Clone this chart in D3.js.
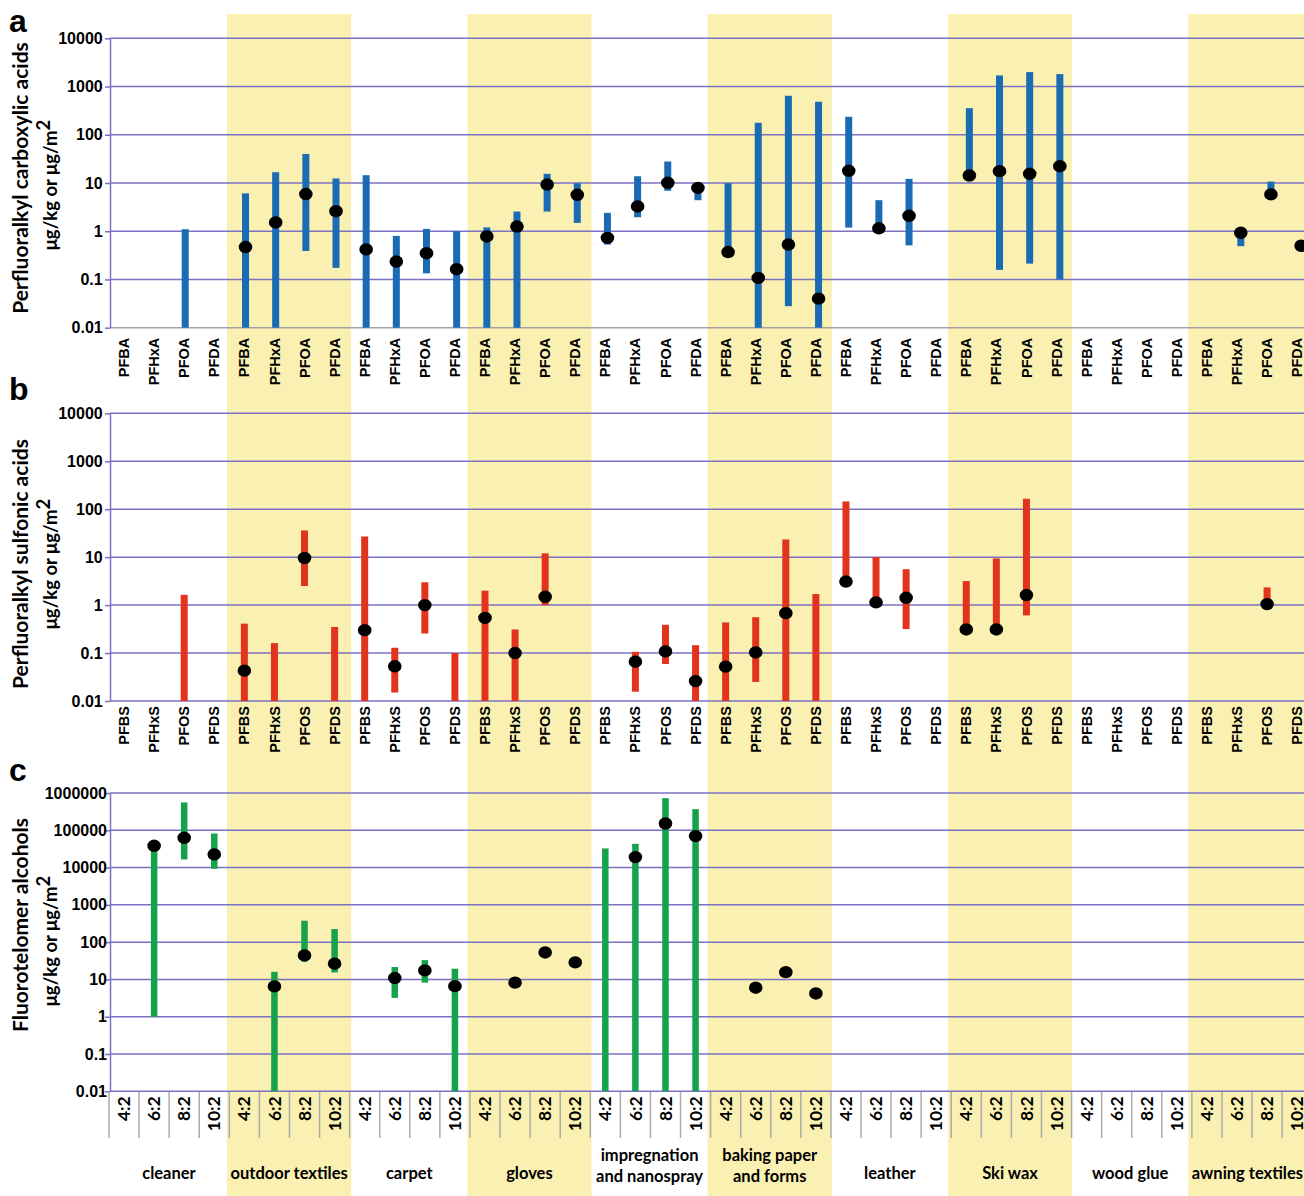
<!DOCTYPE html>
<html><head><meta charset="utf-8">
<script src="https://cdn.jsdelivr.net/npm/d3@7"></script>
<style>body{margin:0;background:#fff}svg{display:block}</style>
</head><body><svg id="chart" width="1304" height="1196"></svg>
<script>
// ---------- data ----------
const categories = ["cleaner","outdoor textiles","carpet","gloves","impregnation\nand nanospray","baking paper\nand forms","leather","Ski wax","wood glue","awning textiles"];
const shadedCategories = ["outdoor textiles","gloves","baking paper\nand forms","Ski wax","awning textiles"];
const pfcaCompounds = ["PFBA","PFHxA","PFOA","PFDA"];
const pfsaCompounds = ["PFBS","PFHxS","PFOS","PFDS"];
const ftohCompounds = ["4:2","6:2","8:2","10:2"];
const ticksAB = [0.01,0.1,1,10,100,1000,10000];
const ticksC = [0.01,0.1,1,10,100,1000,10000,100000,1000000];

// Panel a: perfluoroalkyl carboxylic acids (min, max, median per column)
const pfcaMin = [null,null,0.01,null, 0.01,0.01,0.39,0.174, 0.01,0.01,0.134,0.01, 0.01,0.01,2.56,1.49, 0.53,1.95,6.9,4.4, 0.37,0.01,0.028,0.01, 1.19,1.15,0.51,null, 14.3,0.158,0.213,0.1, null,null,null,null, null,0.49,5.8,null];
const pfcaMax = [null,null,1.1,null, 6.1,16.7,40,12.4, 14.5,0.8,1.12,1.0, 1.2,2.56,15.5,9.9, 2.4,13.8,27.9,9.5, 9.9,177,644,484, 236,4.4,12.2,null, 356,1700,1990,1810, null,null,null,null, null,0.93,10.7,null];
const pfcaMedian = [null,null,null,null, 0.47,1.52,5.9,2.6, 0.42,0.235,0.35,0.163, 0.78,1.25,9.3,5.7, 0.73,3.26,10.1,7.9, 0.37,0.108,0.53,0.04, 17.9,1.15,2.09,null, 14.3,17.6,15.5,22.3, null,null,null,null, null,0.93,5.8,0.5];

// Panel b: perfluoroalkyl sulfonic acids
const pfsaMin = [null,null,0.01,null, 0.01,0.01,2.5,0.01, 0.01,0.015,0.256,0.01, 0.01,0.01,1.0,null, null,0.0156,0.059,0.01, 0.01,0.025,0.01,0.01, 3.1,1.14,0.316,null, 0.31,0.31,0.61,null, null,null,null,null, null,null,1.05,null];
const pfsaMax = [null,null,1.64,null, 0.41,0.161,36,0.35, 27,0.129,3.0,0.1, 2.0,0.31,12,null, null,0.106,0.389,0.146, 0.435,0.56,23.4,1.7, 145,10,5.6,null, 3.17,9.4,165,null, null,null,null,null, null,null,2.34,null];
const pfsaMedian = [null,null,null,null, 0.043,null,9.6,null, 0.30,0.053,1.0,null, 0.54,0.1,1.49,null, null,0.066,0.108,0.026, 0.052,0.103,0.68,null, 3.1,1.14,1.42,null, 0.31,0.31,1.62,null, null,null,null,null, null,null,1.05,null];

// Panel c: fluorotelomer alcohols
const ftohMin = [null,1,16500,9300, null,0.01,30,15.4, null,3.2,8.2,0.01, null,null,null,null, 0.01,0.01,0.01,0.01, null,null,null,null, null,null,null,null, null,null,null,null, null,null,null,null, null,null,null,null];
const ftohMax = [null,38400,557000,82000, null,16,375,224, null,21.5,33,19.4, null,null,null,null, 32600,43400,728000,369000, null,null,null,null, null,null,null,null, null,null,null,null, null,null,null,null, null,null,null,null];
const ftohMedian = [null,38400,63000,22500, null,6.5,44,26.4, null,10.9,17.5,6.6, null,8.2,53,28.6, null,19100,152000,69800, null,6.0,15.7,4.2, null,null,null,null, null,null,null,null, null,null,null,null, null,null,null,null];

// ---------- style ----------
const gridColor = "#7d71c4";
const yellow = "#f9f0b2";
const numFont = "'Liberation Sans', Arial, sans-serif";
const textFont = "Lato, 'Open Sans', sans-serif";

const svg = d3.select("#chart");
const cols = d3.range(40);

// shared column scale and category scale
const xCol = d3.scaleBand().domain(cols).range([109, 1312.2]);
const xColA = d3.scaleBand().domain(cols).range([109.8, 1316.2]);
const xCat = d3.scaleBand().domain(categories).range([106.9, 106.9 + 10 * 120.15]);

// background bands
svg.append("g").selectAll("rect").data(shadedCategories).join("rect")
  .attr("x", d => xCat(d)).attr("width", xCat.step() + 4)
  .attr("y", 14).attr("height", 1196 - 14)
  .attr("fill", yellow);

function drawPanel(o) {
  const y = d3.scaleLog().domain([o.ticks[0], o.ticks[o.ticks.length - 1]]).range([o.yBottom, o.yTop]);
  const g = svg.append("g");
  // gridlines
  g.append("g").selectAll("line").data(o.ticks).join("line")
    .attr("x1", 110).attr("x2", 1304)
    .attr("y1", d => y(d)).attr("y2", d => y(d))
    .attr("stroke", d => d === o.ticks[0] ? o.bottomColor : gridColor)
    .attr("stroke-width", 1.5);
  // y axis
  const ax = g.append("g").attr("transform", "translate(110,0)")
    .call(d3.axisLeft(y).tickValues(o.ticks).tickFormat(d => String(d))
      .tickSizeInner(5).tickSizeOuter(0).tickPadding(o.tickPad));
  ax.select(".domain").attr("stroke", gridColor).attr("stroke-width", 1.5);
  ax.selectAll(".tick line").attr("stroke", gridColor).attr("stroke-width", 1.5);
  ax.selectAll(".tick text").attr("font-family", numFont).attr("font-weight", "bold")
    .attr("font-size", 16).attr("fill", "#000");
  // x axis labels
  const xa = g.append("g").attr("transform", `translate(0,${o.yBottom})`)
    .call(d3.axisBottom(xCol).tickFormat(i => o.compounds[i % 4]).tickSize(0));
  xa.select(".domain").remove();
  xa.selectAll(".tick text")
    .attr("transform", "rotate(-90)").attr("x", -o.labelOffset).attr("y", 0)
    .attr("dy", "0.35em").style("text-anchor", "end")
    .attr("font-family", o.labelFont).attr("font-weight", "bold")
    .attr("font-size", o.labelSize).attr("fill", "#000");
  // bars
  const xb = o.xBars;
  const barIdx = cols.filter(i => o.mins[i] != null && o.maxs[i] != null);
  g.append("g").selectAll("rect").data(barIdx).join("rect")
    .attr("x", i => xb(i) + xb.bandwidth() / 2 - o.barW / 2)
    .attr("width", o.barW)
    .attr("y", i => y(o.maxs[i]))
    .attr("height", i => y(o.mins[i]) - y(o.maxs[i]))
    .attr("fill", o.color);
  // median dots
  const dotIdx = cols.filter(i => o.meds[i] != null);
  g.append("g").selectAll("ellipse").data(dotIdx).join("ellipse")
    .attr("cx", i => xb(i) + xb.bandwidth() / 2)
    .attr("cy", i => y(o.meds[i]))
    .attr("rx", 6.8).attr("ry", 6.2).attr("fill", "#000");
  // titles
  const t = g.append("g");
  t.append("text").attr("transform", `translate(28,${o.title1Y}) rotate(-90)`)
    .attr("text-anchor", "middle").attr("font-family", textFont).attr("font-weight", "bold")
    .attr("font-size", o.title1Size).text(o.title);
  const t2 = t.append("text").attr("transform", `translate(57,${o.title2Y}) rotate(-90)`)
    .attr("text-anchor", "middle").attr("font-family", textFont).attr("font-weight", "bold")
    .attr("font-size", 18.5);
  t2.append("tspan").text("μg/kg or μg/m");
  t2.append("tspan").attr("dy", -7).text("2");
  // panel letter
  g.append("text").attr("x", 9).attr("y", o.letterY)
    .attr("font-family", numFont).attr("font-weight", "bold").attr("font-size", 32)
    .text(o.letter);
  return y;
}

drawPanel({letter: "a", letterY: 32, yTop: 38.3, yBottom: 327.7, ticks: ticksAB,
  mins: pfcaMin, maxs: pfcaMax, meds: pfcaMedian, compounds: pfcaCompounds,
  color: "#1a6ab4", xBars: xColA, barW: 7, bottomColor: "#a3a3a3", tickPad: 2.3,
  labelOffset: 10, labelFont: numFont, labelSize: 14.5,
  title: "Perfluoralkyl carboxylic acids", title1Y: 178, title1Size: 21, title2Y: 185});

drawPanel({letter: "b", letterY: 400, yTop: 413.3, yBottom: 701, ticks: ticksAB,
  mins: pfsaMin, maxs: pfsaMax, meds: pfsaMedian, compounds: pfsaCompounds,
  color: "#e2341c", xBars: xCol, barW: 7, bottomColor: gridColor, tickPad: 2.3,
  labelOffset: 5, labelFont: numFont, labelSize: 14.5,
  title: "Perfluoralkyl sulfonic acids", title1Y: 564, title1Size: 21, title2Y: 564});

drawPanel({letter: "c", letterY: 781, yTop: 793, yBottom: 1091.3, ticks: ticksC,
  mins: ftohMin, maxs: ftohMax, meds: ftohMedian, compounds: ftohCompounds,
  color: "#15a24a", xBars: xCol, barW: 6.5, bottomColor: gridColor, tickPad: -2,
  labelOffset: 5, labelFont: textFont, labelSize: 17.5,
  title: "Fluorotelomer alcohols", title1Y: 925, title1Size: 21, title2Y: 941});

// panel c column separators
svg.append("g").selectAll("line").data(d3.range(41)).join("line")
  .attr("x1", i => 109 + i * xCol.step()).attr("x2", i => 109 + i * xCol.step())
  .attr("y1", 1092).attr("y2", 1138)
  .attr("stroke", "#ababab").attr("stroke-width", 1.5);

// category labels
const catText = svg.append("g").selectAll("text").data(categories).join("text")
  .attr("y", d => d.includes("\n") ? 1161 : 1179)
  .attr("text-anchor", "middle").attr("font-family", textFont).attr("font-weight", "bold")
  .attr("font-size", 16.5).attr("fill", "#000");
catText.each(function(d) {
  const parts = d.split("\n");
  const el = d3.select(this);
  parts.forEach((p, k) => {
    el.append("tspan").attr("dy", k === 0 ? 0 : 21).text(p);
  });
  const w = this.getComputedTextLength ? d3.max(el.selectAll("tspan").nodes(), n => n.getComputedTextLength()) : 0;
  const cx = Math.min(xCat(d) + xCat.step() / 2 + 2, 1303 - w / 2);
  el.selectAll("tspan").attr("x", cx);
});
</script></body></html>
